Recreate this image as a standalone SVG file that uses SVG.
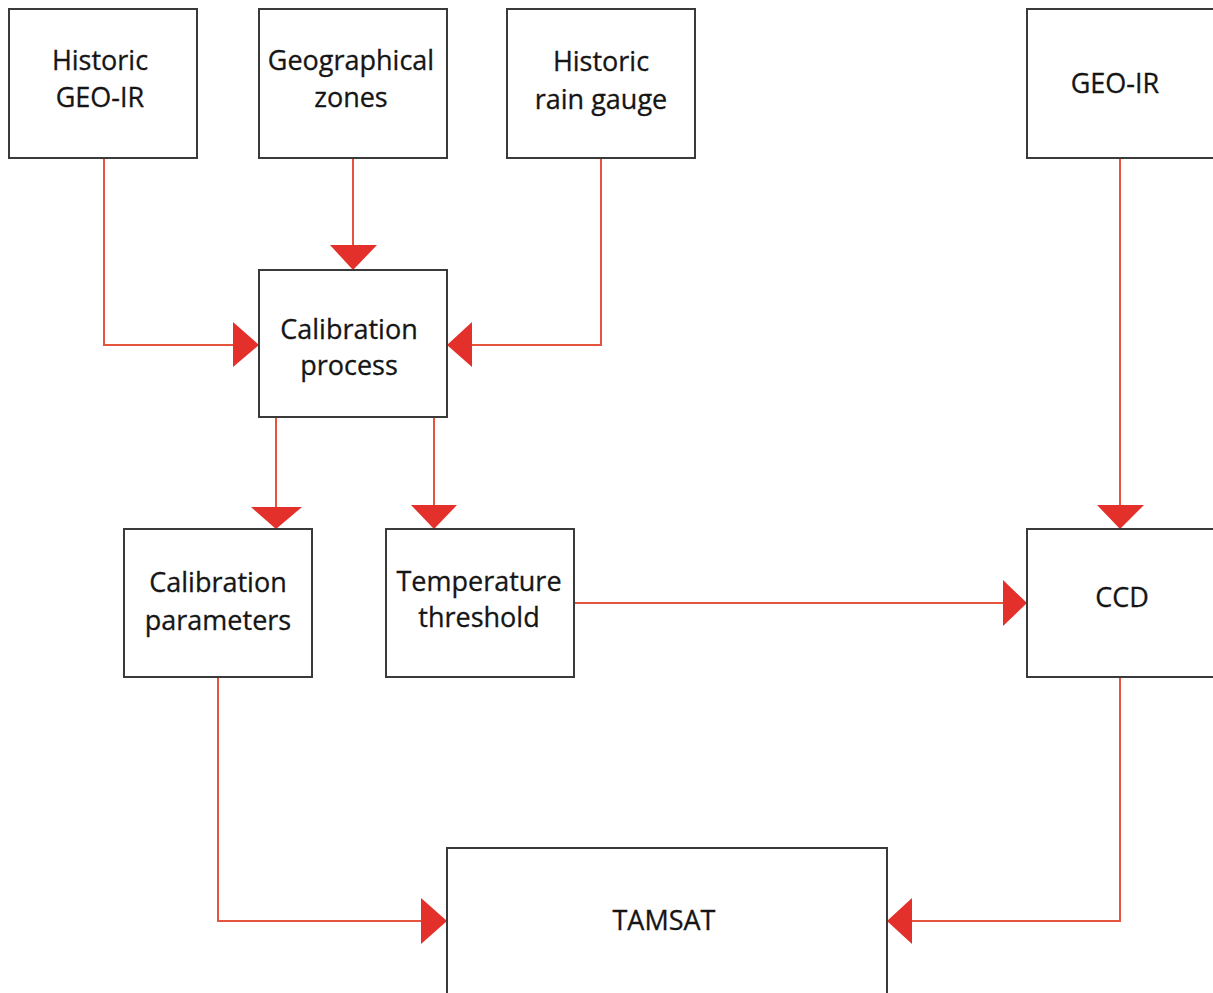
<svg xmlns="http://www.w3.org/2000/svg" width="1213" height="993" viewBox="0 0 1213 993">
<style>
.box{fill:#fff;stroke:#3a3a3a;stroke-width:2}
.lbl{font-family:"Open Sans","Noto Sans","Liberation Sans",sans-serif;font-size:27px;fill:#151515;stroke:#151515;stroke-width:0.3;text-anchor:middle;dominant-baseline:central}
.ln{fill:none;stroke:#e5553d;stroke-width:2}
.ah{fill:#e3302b}
</style>
<rect width="1213" height="993" fill="#fff"/>
<g id="connectors">
<path class="ln" d="M104,158 V345 H240"/>
<polygon class="ah" points="233,322 259,345 233,367"/>
<path class="ln" d="M353,158 V250"/>
<polygon class="ah" points="330,245 377,245 353,270"/>
<path class="ln" d="M601,158 V345 H465"/>
<polygon class="ah" points="472,322 447,345 472,367"/>
<path class="ln" d="M276,417 V512"/>
<polygon class="ah" points="251,507 302,507 276,529"/>
<path class="ln" d="M434,417 V510"/>
<polygon class="ah" points="411,505 457,505 434,529"/>
<path class="ln" d="M574,603 H1008"/>
<polygon class="ah" points="1003,580 1027,603 1003,626"/>
<path class="ln" d="M1120,158 V510"/>
<polygon class="ah" points="1097,505 1144,505 1120,529"/>
<path class="ln" d="M218,677 V921 H428"/>
<polygon class="ah" points="421,898 447,921 421,944"/>
<path class="ln" d="M1120,677 V921 H905"/>
<polygon class="ah" points="912,898 887,921 912,944"/>
</g>
<g id="historic-geo-ir"><rect class="box" x="9" y="9" width="188" height="149"/><text class="lbl" x="100" y="59">Historic</text><text class="lbl" x="100" y="96">GEO-IR</text></g>
<g id="geographical-zones"><rect class="box" x="259" y="9" width="188" height="149"/><text class="lbl" x="351" y="59">Geographical</text><text class="lbl" x="351" y="96">zones</text></g>
<g id="historic-rain-gauge"><rect class="box" x="507" y="9" width="188" height="149"/><text class="lbl" x="601" y="60">Historic</text><text class="lbl" x="601" y="98">rain gauge</text></g>
<g id="geo-ir"><rect class="box" x="1027" y="9" width="190" height="149"/><text class="lbl" x="1115" y="82">GEO-IR</text></g>
<g id="calibration-process"><rect class="box" x="259" y="270" width="188" height="147"/><text class="lbl" x="349" y="328">Calibration</text><text class="lbl" x="349" y="364">process</text></g>
<g id="calibration-parameters"><rect class="box" x="124" y="529" width="188" height="148"/><text class="lbl" x="218" y="581">Calibration</text><text class="lbl" x="218" y="619">parameters</text></g>
<g id="temperature-threshold"><rect class="box" x="386" y="529" width="188" height="148"/><text class="lbl" x="479" y="580">Temperature</text><text class="lbl" x="479" y="616">threshold</text></g>
<g id="ccd"><rect class="box" x="1027" y="529" width="190" height="148"/><text class="lbl" x="1122" y="596">CCD</text></g>
<g id="tamsat"><rect class="box" x="447" y="848" width="440" height="150"/><text class="lbl" x="664" y="919">TAMSAT</text></g>
</svg>
